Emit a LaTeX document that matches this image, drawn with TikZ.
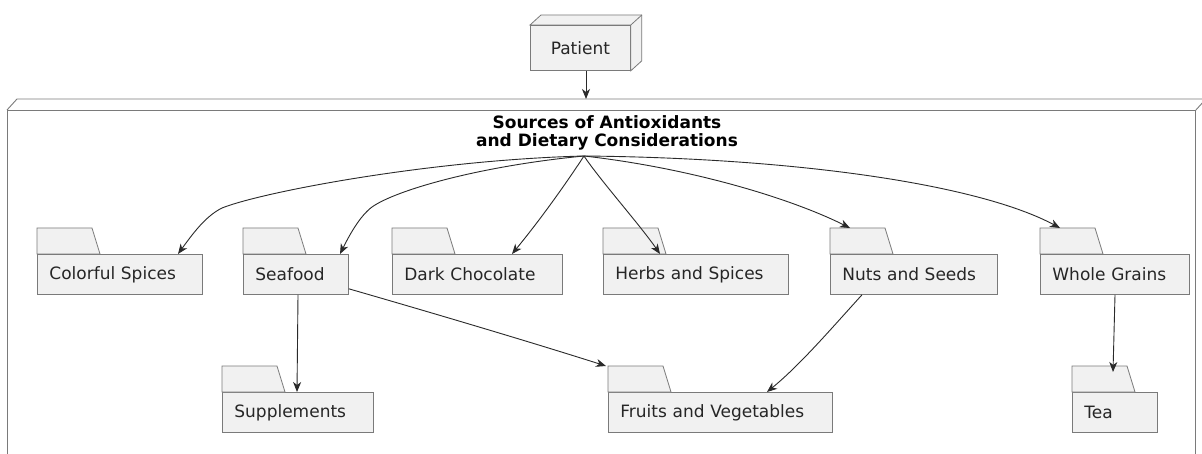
\documentclass[tikz,border=0pt]{standalone}
\usepackage{fontspec}
\setmainfont{DejaVu Sans}
\usetikzlibrary{arrows.meta,calc}
\definecolor{pkgfill}{HTML}{F1F1F1}
\definecolor{pkgline}{HTML}{7A7A7A}
\definecolor{edgecol}{HTML}{2A2A2A}
\definecolor{txtcol}{HTML}{262626}
\newcommand{\pkgfont}{\fontsize{17pt}{20pt}\selectfont}
\newcommand{\ttlfont}{\fontsize{17pt}{18.5pt}\selectfont\bfseries}
\tikzset{
  pkgbody/.style={draw=pkgline, fill=pkgfill, line width=0.8pt, minimum height=40pt,
    inner xsep=12pt, inner ysep=0pt, align=left, anchor=north west, font=\pkgfont,
    text=txtcol},
  pkgtab/.style={draw=pkgline, fill=pkgfill, line width=0.8pt},
  framebox/.style={draw=pkgline, line width=0.9pt},
  edgeline/.style={draw=edgecol, line width=0.9pt,
    -{Stealth[length=10pt,width=8pt,inset=3pt]}},
}
\newcommand{\pkg}[5]{% name, x, y, text width, text
  \node[pkgbody, text width=#4pt] (#1) at (#2,#3) {#5};
  \draw[pkgtab] (#1.north west) -- ++(0,-26) -- ++(55,0) -- ++(8,26) -- cycle;
}
\begin{document}
\begin{tikzpicture}[x=1pt,y=-1pt]
\clip (0,0) rectangle (1202,454);
\fill[white] (0,0) rectangle (1202,454);

% container (3D node shape)
\node[framebox, fill=white, anchor=north west, minimum width=1188pt, minimum height=380pt,
      inner sep=0pt] (sources) at (7,110) {};
\draw[framebox] (sources.north west) -- ++(10,-11) -- ++(1188,0)
                (sources.north east) -- ++(10,-11);
\node[font=\ttlfont, align=center, text=black] (title) at (607,133)
  {Sources of Antioxidants\\and Dietary Considerations};
\coordinate (hub) at (584,156);
\coordinate (ctop) at (586,99);

% patient (3D box)
\node[draw=pkgline, fill=pkgfill, line width=0.8pt, anchor=north west, text=txtcol,
      minimum width=100pt, minimum height=45pt, inner sep=0pt, font=\pkgfont]
      (patient) at (530,25) {Patient};
\draw[pkgtab] (patient.north west) -- ++(11,-10) -- ($(patient.north east)+(11,-10)$)
   -- ($(patient.south east)+(11,-10)$) -- (patient.south east) -- (patient.north east) -- cycle;
\draw[pkgline, line width=0.8pt] (patient.north east) -- ++(11,-10);

% packages
\pkg{colorful}{37}{254}{141}{Colorful Spices}
\pkg{seafood}{243}{254}{81}{Seafood}
\pkg{dark}{392}{254}{146}{Dark Chocolate}
\pkg{herbs}{603}{254}{161}{Herbs and Spices}
\pkg{nuts}{830}{254}{143}{Nuts and Seeds}
\pkg{whole}{1040}{254}{125}{Whole Grains}
\pkg{supp}{222}{392}{127}{Supplements}
\pkg{fruits}{608}{392}{200}{Fruits and Vegetables}
\pkg{tea}{1072}{392}{61}{Tea}

% edges
\draw[edgeline] (patient.south -| ctop) -- (ctop);
\draw[edgeline] (hub) .. controls (430,160) and (262,192) .. (222,208)
   .. controls (206,216) and (194,232) .. ($(colorful.north west)+(141,0)$);
\draw[edgeline] (hub) .. controls (480,166) and (396,190) .. (372,207)
   .. controls (360,216) and (350,234) .. ($(seafood.north west)+(97,0)$);
\draw[edgeline] (hub) .. controls (565,185) and (540,220) .. ($(dark.north west)+(120,0)$);
\draw[edgeline] (hub) .. controls (600,180) and (640,225) .. ($(herbs.north west)+(57,0)$);
\draw[edgeline] (hub) .. controls (690,168) and (790,198) .. ($(nuts.north west)+(20,-26)$);
\draw[edgeline] (hub) .. controls (800,158) and (980,185) .. ($(whole.north west)+(20,-26)$);
\draw[edgeline] ($(seafood.south west)+(55,0)$) -- ($(supp.north west)+(75,0)$);
\draw[edgeline] ($(seafood.south east)+(0,-6)$) .. controls (450,318) and (540,345) .. ($(fruits.north west)+(-2,-26)$);
\draw[edgeline] ($(nuts.south west)+(32,0)$) .. controls (830,330) and (800,365) .. ($(fruits.north west)+(159,0)$);
\draw[edgeline] ($(whole.south west)+(75,0)$) -- ($(tea.north west)+(41,-20)$);
\end{tikzpicture}
\end{document}
